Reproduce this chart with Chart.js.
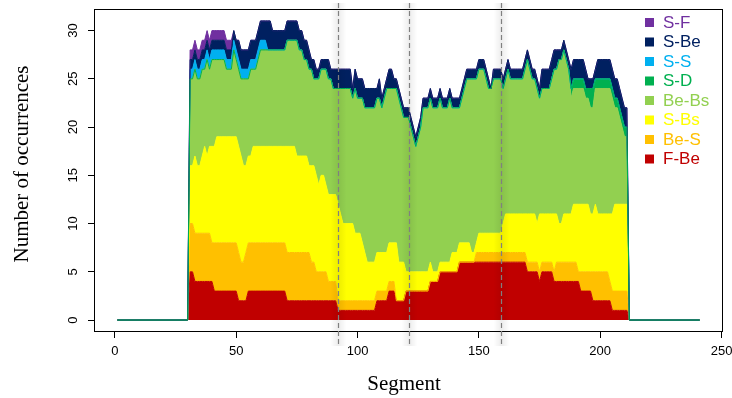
<!DOCTYPE html>
<html>
<head>
<meta charset="utf-8">
<script src="https://cdn.jsdelivr.net/npm/chart.js@4.4.1/dist/chart.umd.min.js"></script>
<style>
  html, body { margin: 0; padding: 0; background: #fff; }
</style>
</head>
<body>
<canvas id="chart" width="732" height="398"></canvas>
<script>
// x range of the record and tick labels
const firstSegment = 1;
const lastSegment = 241;
const startSegment = 30; // first segment of the count arrays below (30..212)
const xTicks = [0, 50, 100, 150, 200, 250];
const yTicks = [0, 5, 10, 15, 20, 25, 30];
const breakSegments = [92, 121, 159];

// layers from bottom to top
const layerNames = ["F-Be", "Be-S", "S-Bs", "Be-Bs", "S-D", "S-S", "S-Be", "S-F"];
const layerColors = ["#C00000", "#FFC000", "#FFFF00", "#92D050", "#00B050", "#00B0F0", "#002060", "#7030A0"];

// occurrences per segment, one row = 10 segments, starting at segment 30
const fBe = [
  0,5,5,4,4,4,4,4,4,4,
  4,3,3,3,3,3,3,3,3,3,
  3,2,2,2,2,3,3,3,3,3,
  3,3,3,3,3,3,3,3,3,3,
  3,2,2,2,2,2,2,2,2,2,
  2,2,2,2,2,2,2,2,2,2,
  2,2,1,1,1,1,1,1,1,1,
  1,1,1,1,1,1,1,1,2,2,
  2,2,2,3,3,3,2,2,2,2,
  3,3,3,3,3,3,3,3,3,3,
  4,4,4,4,5,5,5,5,5,5,
  5,5,6,6,6,6,6,6,6,6,
  6,6,6,6,6,6,6,6,6,6,
  6,6,6,6,6,6,6,6,6,6,
  5,5,5,5,5,4,5,5,5,5,
  5,4,4,4,4,4,4,4,4,4,
  4,4,3,3,3,3,3,2,2,2,
  2,2,2,2,2,1,1,1,1,1,
  1,1,0];
const beS = [
  0,5,5,5,5,5,5,5,5,5,
  4,5,5,5,5,5,5,5,5,5,
  5,5,4,4,5,5,5,5,5,5,
  5,5,5,5,5,5,5,5,5,5,
  5,5,5,5,5,5,5,5,5,5,
  5,4,4,3,3,3,3,3,2,2,
  2,2,1,1,1,1,1,1,1,1,
  1,1,1,1,1,1,1,1,1,1,
  1,1,1,1,1,1,0,0,0,0,
  0,0,0,0,0,0,0,0,0,0,
  0,0,0,0,0,0,0,0,0,0,
  0,0,0,0,0,0,0,0,0,1,
  1,1,1,1,1,1,1,1,1,1,
  1,1,1,1,1,1,1,1,1,1,
  1,1,1,1,1,1,1,1,1,1,
  1,1,2,2,2,2,2,2,2,2,
  2,1,2,2,2,2,2,3,3,3,
  3,3,3,3,2,2,2,2,2,2,
  2,2,0];
const sBs = [
  0,6,6,8,7,7,8,9,8,9,
  10,10,11,11,11,11,11,11,11,11,
  11,11,11,10,9,9,9,10,10,10,
  10,10,10,10,10,10,10,10,10,10,
  10,11,11,11,11,10,10,10,10,10,
  9,10,10,10,9,10,10,9,9,9,
  9,9,10,9,8,8,8,8,8,7,
  7,7,6,5,4,4,4,4,4,4,
  4,4,4,4,4,4,6,4,4,4,
  2,2,2,2,2,2,2,2,2,2,
  2,1,1,1,1,1,1,1,1,2,
  2,2,2,2,2,2,2,1,1,1,
  2,2,2,2,2,2,2,2,2,2,
  3,4,4,4,4,4,4,4,4,4,
  5,5,5,5,4,6,5,5,5,5,
  5,6,5,4,4,5,5,5,5,6,
  6,7,7,7,7,7,6,6,7,6,
  6,6,6,6,7,8,9,9,9,9,
  9,9,0];
const beBs = [
  0,9,9,9,9,9,9,8,10,8,
  9,9,8,8,8,8,7,7,7,9,
  8,8,8,9,9,8,9,8,8,9,
  10,10,10,10,10,10,10,10,10,10,
  10,11,11,11,11,12,11,11,10,10,
  10,10,9,10,11,11,11,12,12,12,
  11,11,12,13,14,14,14,14,13,15,
  14,14,15,15,16,16,16,16,16,16,
  15,16,17,16,16,16,16,17,16,15,
  16,16,15,14,13,14,15,17,17,17,
  17,17,17,17,17,16,16,16,17,15,
  15,15,14,15,16,17,17,18,18,17,
  17,17,17,16,15,15,16,16,16,16,
  14,14,15,14,14,14,14,14,14,15,
  16,15,14,14,14,12,13,13,13,13,
  14,15,15,17,17,17,16,15,12,12,
  12,12,12,12,11,11,11,11,12,13,
  13,13,13,13,13,12,10,10,9,8,
  7,7,0];
const sD = [
  0,0,0,0,0,0,0,0,0,0,
  0,0,0,0,0,0,0,0,0,0,
  0,0,0,0,0,0,0,0,0,0,
  0,0,0,0,0,0,0,0,0,0,
  0,0,0,0,0,0,0,0,0,0,
  0,0,0,0,0,0,0,0,0,0,
  0,0,0,0,0,0,0,0,0,0,
  0,0,0,0,0,0,0,0,0,0,
  0,0,0,0,0,0,0,0,0,0,
  0,0,0,0,0,0,0,0,0,0,
  0,0,0,0,0,0,0,0,0,0,
  0,0,0,0,0,0,0,0,0,0,
  0,0,0,0,0,0,0,0,0,0,
  0,0,0,0,0,0,0,0,0,0,
  0,0,0,0,0,0,0,0,0,0,
  0,0,0,0,0,0,0,0,1,1,
  1,1,1,1,1,1,2,2,1,1,
  1,1,1,1,1,1,1,1,1,1,
  1,1,0];
const sS = [
  0,1,1,1,1,1,1,1,1,1,
  1,1,1,1,1,1,1,1,1,1,
  1,1,1,1,1,1,1,1,1,1,
  1,1,1,0,0,0,0,0,0,0,
  0,0,0,0,0,0,0,0,0,0,
  0,0,0,0,0,0,0,0,0,0,
  0,0,0,0,0,0,0,0,0,0,
  0,0,0,0,0,0,0,0,0,0,
  0,0,0,0,0,0,0,0,0,0,
  0,0,0,0,0,0,0,0,0,0,
  0,0,0,0,0,0,0,0,0,0,
  0,0,0,0,0,0,0,0,0,0,
  0,0,0,0,0,0,0,0,0,0,
  0,0,0,0,0,0,0,0,0,0,
  0,0,0,0,0,0,0,0,0,0,
  0,0,0,0,0,0,0,0,0,0,
  0,0,0,0,0,0,0,0,0,0,
  0,0,0,0,0,0,0,0,0,0,
  0,0,0];
const sBe = [
  0,1,1,1,1,1,1,1,1,1,
  1,1,1,1,1,1,1,1,1,1,
  1,2,2,2,2,2,2,2,2,2,
  2,2,2,3,3,2,2,2,2,2,
  2,2,2,2,2,2,2,2,2,2,
  2,1,2,1,1,1,1,1,2,1,
  2,2,2,2,2,2,2,2,1,2,
  2,2,2,2,2,2,2,2,1,2,
  1,1,1,2,2,1,1,1,1,1,
  1,1,1,1,1,1,1,1,1,1,
  1,1,1,1,1,1,1,1,1,1,
  1,1,1,1,1,1,1,1,1,1,
  1,1,1,1,1,0,1,1,1,1,
  1,1,1,1,1,1,1,1,1,1,
  1,1,1,1,1,1,2,2,2,2,
  2,2,2,1,1,1,1,1,2,2,
  2,2,2,2,2,1,1,1,1,2,
  2,2,2,2,2,2,2,2,2,2,
  2,2,0];
const sF = [
  0,1,1,1,1,1,1,1,1,1,
  1,1,1,1,1,1,1,1,1,0,
  0,0,0,0,0,0,0,0,0,0,
  0,0,0,0,0,0,0,0,0,0,
  0,0,0,0,0,0,0,0,0,0,
  0,0,0,0,0,0,0,0,0,0,
  0,0,0,0,0,0,0,0,0,0,
  0,0,0,0,0,0,0,0,0,0,
  0,0,0,0,0,0,0,0,0,0,
  0,0,0,0,0,0,0,0,0,0,
  0,0,0,0,0,0,0,0,0,0,
  0,0,0,0,0,0,0,0,0,0,
  0,0,0,0,0,0,0,0,0,0,
  0,0,0,0,0,0,0,0,0,0,
  0,0,0,0,0,0,0,0,0,0,
  0,0,0,0,0,0,0,0,0,0,
  0,0,0,0,0,0,0,0,0,0,
  0,0,0,0,0,0,0,0,0,0,
  0,0,0];

const layers = [fBe, beS, sBs, beBs, sD, sS, sBe, sF];
// which border ends up on top where layers are empty (higher = drawn earlier)
const lineOrder = [8, 7, 6, 5, 1, 4, 2, 3];

const running = new Array(fBe.length).fill(0);
const datasets = layers.map((counts, k) => {
  const pts = [{ x: firstSegment, y: 0 }];
  counts.forEach((c, i) => {
    running[i] += c;
    pts.push({ x: startSegment + i, y: running[i] });
  });
  pts.push({ x: lastSegment, y: 0 });
  return {
    label: layerNames[k],
    data: pts,
    borderColor: layerColors[k],
    backgroundColor: layerColors[k],
    borderWidth: 1,
    pointRadius: 0,
    tension: 0,
    fill: k === 0 ? "origin" : "-1",
    order: lineOrder[k],
  };
});

const sansFont = '"Liberation Sans", Arial, sans-serif';
const serifFont = '"Liberation Serif", "Times New Roman", serif';

const overlay = {
  id: "overlay",
  afterDraw(chart) {
    const { ctx, chartArea: a, scales } = chart;
    ctx.save();

    // plot box
    ctx.strokeStyle = "#000";
    ctx.lineWidth = 1;
    ctx.strokeRect(a.left + 0.5, a.top + 0.5, a.right - a.left - 1, a.bottom - a.top - 1);

    // dashed segment breaks with a soft shade
    breakSegments.forEach((seg) => {
      const px = Math.round(scales.x.getPixelForValue(seg)) + 0.5;
      const g = ctx.createLinearGradient(px - 8, 0, px + 8, 0);
      g.addColorStop(0, "rgba(0,0,0,0)");
      g.addColorStop(0.5, "rgba(0,0,0,0.07)");
      g.addColorStop(1, "rgba(0,0,0,0)");
      ctx.fillStyle = g;
      ctx.fillRect(px - 8, 3, 16, 343);
      ctx.setLineDash([5, 3]);
      ctx.strokeStyle = "#808080";
      ctx.lineWidth = 1.2;
      ctx.beginPath();
      ctx.moveTo(px, 3);
      ctx.lineTo(px, 346);
      ctx.stroke();
    });
    ctx.setLineDash([]);

    // legend, top layer first
    ctx.font = "17px " + sansFont;
    ctx.textAlign = "left";
    ctx.textBaseline = "middle";
    for (let k = layerNames.length - 1, row = 0; k >= 0; k--, row++) {
      const cy = 22 + row * 19.5;
      ctx.fillStyle = layerColors[k];
      ctx.fillRect(645, cy - 4, 9, 9);
      ctx.fillText(layerNames[k], 663, cy + 1);
    }

    // axis titles
    ctx.fillStyle = "#000";
    ctx.font = "21px " + serifFont;
    ctx.textAlign = "center";
    ctx.fillText("Segment", 404, 384);
    ctx.translate(22, 164);
    ctx.rotate(-Math.PI / 2);
    ctx.fillText("Number of occurrences", 0, 0);
    ctx.restore();
  },
};

new Chart(document.getElementById("chart"), {
  type: "line",
  data: { datasets: datasets },
  options: {
    responsive: false,
    animation: false,
    layout: { padding: { left: 0, right: 9, top: 9, bottom: 0 } },
    scales: {
      x: {
        type: "linear",
        min: -8.6,
        max: 250.6,
        afterBuildTicks: (s) => { s.ticks = xTicks.map((v) => ({ value: v })); },
        afterFit: (s) => { s.height = 66; s.paddingLeft = 0; s.paddingRight = 0; },
        grid: { drawOnChartArea: false, drawTicks: true, tickLength: 6, color: "#000" },
        border: { display: false },
        ticks: { color: "#000", font: { family: sansFont, size: 13 }, padding: 6, maxRotation: 0, minRotation: 0 },
      },
      y: {
        type: "linear",
        min: -1.24,
        max: 32.24,
        afterBuildTicks: (s) => { s.ticks = yTicks.map((v) => ({ value: v })); },
        afterFit: (s) => { s.width = 94; s.paddingTop = 0; s.paddingBottom = 0; },
        grid: { drawOnChartArea: false, drawTicks: true, tickLength: 6, color: "#000" },
        border: { display: false },
        ticks: { color: "#000", font: { family: sansFont, size: 13 }, padding: 7, minRotation: 90, maxRotation: 90, crossAlign: "center" },
      },
    },
    plugins: {
      legend: { display: false },
      tooltip: { enabled: false },
      filler: { drawTime: "beforeDatasetsDraw" },
    },
  },
  plugins: [overlay],
});
</script>
</body>
</html>
